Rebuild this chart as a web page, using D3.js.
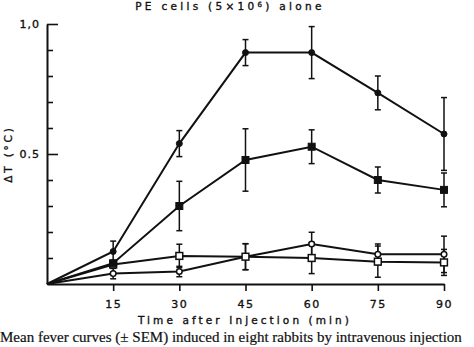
<!DOCTYPE html>
<html>
<head>
<meta charset="utf-8">
<script src="https://cdn.jsdelivr.net/npm/d3@7/dist/d3.min.js"></script>
<style>
  html, body { margin: 0; padding: 0; background: #fff; }
  svg { display: block; }
  .lbl { font-family: "DejaVu Sans", sans-serif; fill: #111; stroke: #111; stroke-width: 0.35px; }
  .cap { font-family: "Liberation Serif", "Times New Roman", serif; fill: #111; stroke: #111; stroke-width: 0.2px; }
</style>
</head>
<body>
<svg id="chart" width="474" height="347"></svg>
<script>
// Sampling times after injection (min)
const times = [0, 15, 30, 45, 60, 75, 90];
const xTickValues = [15, 30, 45, 60, 75, 90];
const yMinorTicks = [0.1, 0.2, 0.3, 0.4, 0.6, 0.7, 0.8, 0.9];
const yMajorTicks = [0.5, 1.0];
const yMajorLabels = ["0.5", "1,0"];

// Mean rise in temperature (°C) and SEM for each group
const filledCircleMean = [0, 0.125, 0.54, 0.89, 0.89, 0.735, 0.577];
const filledCircleSem  = [0, 0.04, 0.05, 0.05, 0.10, 0.065, 0.14];
const filledSquareMean = [0, 0.08, 0.30, 0.477, 0.528, 0.40, 0.362];
const filledSquareSem  = [0, 0, 0.095, 0.12, 0.065, 0.05, 0.065];
const openSquareMean   = [0, 0.075, 0.108, 0.105, 0.10, 0.086, 0.083];
const openSquareSem    = [0, 0, 0.045, 0.05, 0.06, 0.06, 0.05];
const openCircleMean   = [0, 0.04, 0.048, 0.105, 0.154, 0.114, 0.114];
const openCircleSem    = [0, 0.02, 0.02, 0.05, 0.045, 0.04, 0.07];

const series = [
  { mean: openCircleMean,   sem: openCircleSem,   shape: "circle", filled: false },
  { mean: openSquareMean,   sem: openSquareSem,   shape: "square", filled: false },
  { mean: filledSquareMean, sem: filledSquareSem, shape: "square", filled: true },
  { mean: filledCircleMean, sem: filledCircleSem, shape: "circle", filled: true }
];

const svg = d3.select("#chart");
const x = d3.scaleLinear().domain([0, 90]).range([47, 444]);
const y = d3.scaleLinear().domain([0, 1]).range([284, 24]);

// Title
const title = svg.append("text").attr("class", "lbl")
  .attr("x", 230).attr("y", 9.5).attr("text-anchor", "middle")
  .style("font-size", "10.5px").style("letter-spacing", "3.3px");
title.append("tspan").text("PE cells (5×10");
title.append("tspan").attr("dy", -3).style("font-size", "7px").text("6");
title.append("tspan").attr("dy", 3).text(") alone");

// Y axis: inward minor ticks, longer major ticks, labels on the left
const yMinor = svg.append("g").attr("transform", `translate(${x(0)},0)`)
  .call(d3.axisRight(y).tickValues(yMinorTicks).tickSize(6).tickSizeOuter(0).tickFormat(""));
const yMajor = svg.append("g").attr("transform", `translate(${x(0)},0)`)
  .call(d3.axisRight(y).tickValues(yMajorTicks).tickSize(11).tickSizeOuter(0).tickFormat(""));
const yLabels = svg.append("g").attr("transform", `translate(${x(0)},0)`)
  .call(d3.axisLeft(y).tickValues(yMajorTicks).tickSize(0).tickPadding(7)
    .tickFormat((d, i) => yMajorLabels[i]));
yLabels.select(".domain").remove();
yMajor.select(".domain").remove();
[yMinor, yMajor].forEach(g => {
  g.selectAll("line").attr("stroke", "#111").attr("stroke-width", 1.6);
});
yMinor.select(".domain").attr("stroke", "#111").attr("stroke-width", 2);
yLabels.selectAll("text").attr("class", "lbl")
  .style("font-size", "11px").style("letter-spacing", "1px");

// X axis
const xAxis = svg.append("g").attr("transform", `translate(0,${y(0)})`)
  .call(d3.axisBottom(x).tickValues(xTickValues).tickSize(7).tickSizeOuter(0).tickPadding(9));
xAxis.select(".domain").attr("stroke", "#111").attr("stroke-width", 2);
xAxis.selectAll("line").attr("stroke", "#111").attr("stroke-width", 1.6);
xAxis.selectAll("text").attr("class", "lbl")
  .style("font-size", "11px").style("letter-spacing", "1.5px");

// Axis titles
svg.append("text").attr("class", "lbl")
  .attr("x", 245).attr("y", 324).attr("text-anchor", "middle")
  .style("font-size", "10.5px").style("letter-spacing", "3.1px")
  .text("Time after Injection (min)");
svg.append("text").attr("class", "lbl")
  .attr("transform", "translate(12,154) rotate(-90)").attr("text-anchor", "middle")
  .style("font-size", "10.5px").style("letter-spacing", "2.8px")
  .text("ΔT (°C)");

// Figure caption
svg.append("text").attr("class", "cap")
  .attr("x", 0).attr("y", 341.5).style("font-size", "15px")
  .text("Mean fever curves (± SEM) induced in eight rabbits by intravenous injection");

// Curves, error bars and markers
const line = d3.line().x((d, i) => x(times[i])).y(d => y(d));
const plot = svg.append("g");

series.forEach(s => {
  plot.append("path").datum(s.mean).attr("d", line)
    .attr("fill", "none").attr("stroke", "#111").attr("stroke-width", 2);
});

series.forEach(s => {
  const eb = plot.append("g");
  s.mean.forEach((m, i) => {
    const e = s.sem[i];
    if (!e) return;
    const cx = x(times[i]);
    const y1 = y(m + e), y2 = y(m - e);
    eb.append("line").attr("x1", cx).attr("x2", cx).attr("y1", y1).attr("y2", y2)
      .attr("stroke", "#111").attr("stroke-width", 1.5);
    [y1, y2].forEach(yy => eb.append("line")
      .attr("x1", cx - 3).attr("x2", cx + 3).attr("y1", yy).attr("y2", yy)
      .attr("stroke", "#111").attr("stroke-width", 1.5));
  });
});

series.forEach(s => {
  const g = plot.append("g");
  s.mean.forEach((m, i) => {
    if (i === 0) return;
    const cx = x(times[i]), cy = y(m);
    if (s.shape === "circle") {
      g.append("circle").attr("cx", cx).attr("cy", cy)
        .attr("r", s.filled ? 3 : 2.8)
        .attr("fill", s.filled ? "#111" : "#fff")
        .attr("stroke", "#111").attr("stroke-width", s.filled ? 1 : 1.5);
    } else {
      const h = s.filled ? 3.5 : 3.4;
      g.append("rect").attr("x", cx - h).attr("y", cy - h)
        .attr("width", 2 * h).attr("height", 2 * h)
        .attr("fill", s.filled ? "#111" : "#fff")
        .attr("stroke", "#111").attr("stroke-width", s.filled ? 1 : 1.5);
    }
  });
});
</script>
</body>
</html>
